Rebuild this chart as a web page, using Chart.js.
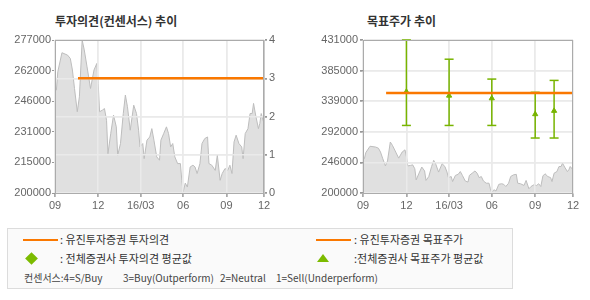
<!DOCTYPE html>
<html>
<head>
<meta charset="utf-8">
<script src="https://cdn.jsdelivr.net/npm/chart.js@4/dist/chart.umd.min.js"></script>
<style>
  body { margin: 0; background: #fff; width: 590px; height: 300px; position: relative; overflow: hidden;
         font-family: "Noto Sans CJK KR", "Noto Sans", sans-serif; }
  .abs { position: absolute; }
  .title { font-size: 12px; font-weight: bold; color: #333; line-height: 14px; }
  #legend { left: 7px; top: 228px; width: 506px; height: 61px; box-sizing: border-box;
            border: 1px solid #dcdcdc; background: #fafafa; }
  .lg { position: absolute; font-size: 11px; color: #333; line-height: 13px; white-space: pre; }
  .sm { font-size: 10px; color: #444; }
  .ln { position: absolute; height: 2px; background: #fa7800; }
  .dia { position: absolute; width: 9px; height: 9px; background: #7cbb00; transform: rotate(45deg); }
  .tri { position: absolute; width: 0; height: 0; border-left: 6px solid transparent;
         border-right: 6px solid transparent; border-bottom: 8px solid #7cbb00; }
</style>
</head>
<body>
<div class="abs title" style="left:55px;top:14px">투자의견(컨센서스) 추이</div>
<div class="abs title" style="left:367px;top:14px">목표주가 추이</div>
<canvas id="opinion" class="abs" style="left:0;top:0" width="295" height="215"></canvas>
<canvas id="target" class="abs" style="left:295px;top:0" width="295" height="215"></canvas>

<div id="legend" class="abs">
  <div class="ln" style="left:15px;top:10px;width:35px"></div>
  <div class="lg" style="left:52px;top:4px">: 유진투자증권 투자의견</div>
  <div class="ln" style="left:308px;top:10px;width:35px"></div>
  <div class="lg" style="left:346px;top:4px">: 유진투자증권 목표주가</div>
  <div class="dia" style="left:19px;top:25px"></div>
  <div class="lg" style="left:52px;top:23px">: 전체증권사 투자의견 평균값</div>
  <div class="tri" style="left:309px;top:25px"></div>
  <div class="lg" style="left:346px;top:23px">:전체증권사 목표주가 평균값</div>
  <div class="lg sm" style="left:16px;top:42px">컨센서스:4=S/Buy</div>
  <div class="lg sm" style="left:115px;top:42px">3=Buy(Outperform)</div>
  <div class="lg sm" style="left:212px;top:42px">2=Neutral</div>
  <div class="lg sm" style="left:268px;top:42px">1=Sell(Underperform)</div>
</div>

<script>
// x = trading day index from 2015/09
const xTickPos = [0, 62, 123, 184, 246, 300];
const xTickLabels = ["09", "12", "16/03", "06", "09", "12"];

const priceDays = [0, 2, 4, 10, 18, 22, 25, 28, 32, 35, 39, 42, 46, 51, 56, 60, 62, 64, 68, 71,
  74, 76, 80, 84, 88, 90, 94, 98, 101, 104, 108, 113, 117, 120, 122, 126, 128, 132, 136, 139,
  142, 146, 150, 152, 156, 160, 163, 166, 169, 172, 176, 180, 182, 184, 187, 190, 194, 198, 201, 204,
  208, 211, 215, 219, 221, 225, 230, 233, 237, 240, 244, 248, 251, 254, 257, 260, 264, 268, 270, 273,
  277, 280, 283, 285, 288, 292, 294, 296, 300];
const priceValues = [251800, 251800, 261000, 270600, 269400, 267700, 261900, 252600, 240900, 248400,
  277000, 272000, 263500, 252600, 261900, 265200, 255100, 240900, 241700, 242500,
  236600, 219800, 229900, 239200, 233300, 219000, 224900, 240000, 249300, 243400,
  231600, 244200, 240000, 231600, 223200, 224900, 217300, 226600, 228200, 232400,
  226600, 218200, 216500, 226600, 229900, 233300, 229900, 223200, 224900, 218200,
  214800, 214800, 206400, 200500, 205000, 203000, 213100, 214000, 213100, 209800,
  214800, 224900, 227400, 228200, 214800, 214000, 211400, 219000, 206400, 209800,
  212300, 211400, 214000, 209800, 225700, 229100, 224900, 223200, 217300, 229900,
  232400, 240000, 240000, 245100, 239200, 232400, 235000, 240000, 235000];

// left chart axes
const opinionPriceTicks = [200000, 215400, 230800, 246200, 261600, 277000];
const opinionPriceLabels = ["200000", "215000", "231000", "246000", "262000", "277000"];
const opinionDays = [33, 300];
const opinionValues = [3, 3];

// right chart
const targetTicks = [200000, 246200, 292400, 338600, 384800, 431000];
const targetLabels = ["200000", "246000", "292000", "339000", "385000", "431000"];
const targetDays = [33, 300];
const targetValues = [351000, 351000];
const consDays = [62, 123, 184, 246, 273];
const consHigh = [431000, 402000, 372000, 352000, 370000];
const consLow = [302000, 302000, 302000, 283000, 283000];
const consAvg = [353000, 347000, 343000, 319000, 324000];

const ORANGE = "#fa7800";
const GREEN = "#78b400";
const tickFont = { family: "'Liberation Sans', Arial, sans-serif", size: 11 };

const pricePoints = priceDays.map((d, i) => ({ x: d, y: priceValues[i] }));

// redraw the grid over the grey price area, under the other lines
const gridOver = {
  id: "gridOver",
  afterDatasetDraw(chart, args) {
    if (chart.data.datasets[args.index].label !== "price") return;
    Object.values(chart.scales).forEach((s) => {
      if (s.options.grid.drawOnChartArea) s.drawGrid(chart.chartArea);
    });
  },
};
const frame = {
  id: "frame",
  afterDraw(chart) {
    const { left, top, right, bottom } = chart.chartArea;
    const ctx = chart.ctx;
    ctx.save();
    ctx.strokeStyle = "#ababab";
    ctx.lineWidth = 1;
    ctx.strokeRect(Math.round(left) + 0.5, Math.round(top) + 0.5, Math.round(right - left) - 1, Math.round(bottom - top));
    ctx.restore();
  },
};

const xAxis = () => ({
  type: "linear",
  min: 0,
  max: 300,
  afterBuildTicks: (s) => { s.ticks = xTickPos.map((v) => ({ value: v })); },
  afterFit: (s) => { s.height = 22; },
  ticks: { callback: (v, i) => xTickLabels[i], autoSkip: false, maxRotation: 0, padding: 2, color: "#666", font: tickFont },
  grid: { color: "#eaeaea", lineWidth: 1.5, tickLength: 4, tickColor: "#aaa" },
  border: { color: "#ababab" },
});

const priceDataset = {
  label: "price",
  data: pricePoints,
  fill: "start",
  backgroundColor: "#e0e0e0",
  borderColor: "#bdbdbd",
  borderWidth: 1,
  pointRadius: 0,
  tension: 0,
  order: 5,
};

new Chart(document.getElementById("opinion"), {
  type: "line",
  data: {
    datasets: [
      { ...priceDataset, yAxisID: "y" },
      {
        label: "opinion",
        data: opinionDays.map((d, i) => ({ x: d, y: opinionValues[i] })),
        yAxisID: "y2",
        borderColor: ORANGE,
        borderWidth: 2.5,
        pointRadius: 0,
        order: 0,
      },
    ],
  },
  options: {
    responsive: false,
    animation: false,
    devicePixelRatio: 1,
    layout: { padding: { top: 40, left: 0, right: 0, bottom: 0 } },
    plugins: { legend: { display: false }, tooltip: { enabled: false } },
    scales: {
      x: xAxis(),
      y: {
        type: "linear",
        position: "left",
        min: 200000,
        max: 277000,
        afterBuildTicks: (s) => { s.ticks = opinionPriceTicks.map((v) => ({ value: v })); },
        afterFit: (s) => { s.width = 55; },
        ticks: { callback: (v, i) => opinionPriceLabels[i], padding: 1, color: "#666", font: tickFont },
        grid: { drawOnChartArea: false, tickLength: 3, tickColor: "#999" },
        border: { color: "#ababab" },
      },
      y2: {
        type: "linear",
        position: "right",
        min: 0,
        max: 4,
        afterFit: (s) => { s.width = 31; },
        ticks: { stepSize: 1, padding: 2, color: "#666", font: tickFont },
        grid: { color: "#eaeaea", lineWidth: 1.5, tickLength: 3, tickColor: "#999" },
        border: { color: "#ababab" },
      },
    },
  },
  plugins: [gridOver, frame],
});

const errPoints = consDays.flatMap((d, i) => [
  { x: d, y: consLow[i] },
  { x: d, y: consHigh[i] },
  { x: d, y: null },
]);

new Chart(document.getElementById("target"), {
  type: "line",
  data: {
    datasets: [
      priceDataset,
      {
        label: "range",
        data: errPoints,
        borderColor: GREEN,
        borderWidth: 1.5,
        spanGaps: false,
        pointStyle: "line",
        pointRadius: 4.5,
        pointBorderColor: GREEN,
        pointBorderWidth: 1.5,
        clip: false,
        order: 2,
      },
      {
        label: "avg",
        data: consDays.map((d, i) => ({ x: d, y: consAvg[i] })),
        showLine: false,
        pointStyle: "triangle",
        pointRadius: 3,
        pointBackgroundColor: GREEN,
        pointBorderColor: GREEN,
        pointBorderWidth: 1,
        order: 1,
      },
      {
        label: "target",
        data: targetDays.map((d, i) => ({ x: d, y: targetValues[i] })),
        borderColor: ORANGE,
        borderWidth: 2.5,
        pointRadius: 0,
        order: 0,
      },
    ],
  },
  options: {
    responsive: false,
    animation: false,
    devicePixelRatio: 1,
    layout: { padding: { top: 40, left: 0, right: 17, bottom: 0 } },
    plugins: { legend: { display: false }, tooltip: { enabled: false } },
    scales: {
      x: xAxis(),
      y: {
        type: "linear",
        position: "left",
        min: 200000,
        max: 431000,
        afterBuildTicks: (s) => { s.ticks = targetTicks.map((v) => ({ value: v })); },
        afterFit: (s) => { s.width = 68; },
        ticks: { callback: (v, i) => targetLabels[i], padding: 2, color: "#666", font: tickFont },
        grid: { color: "#eaeaea", lineWidth: 1.5, tickLength: 3, tickColor: "#999" },
        border: { color: "#ababab" },
      },
    },
  },
  plugins: [gridOver, frame],
});
</script>
</body>
</html>
